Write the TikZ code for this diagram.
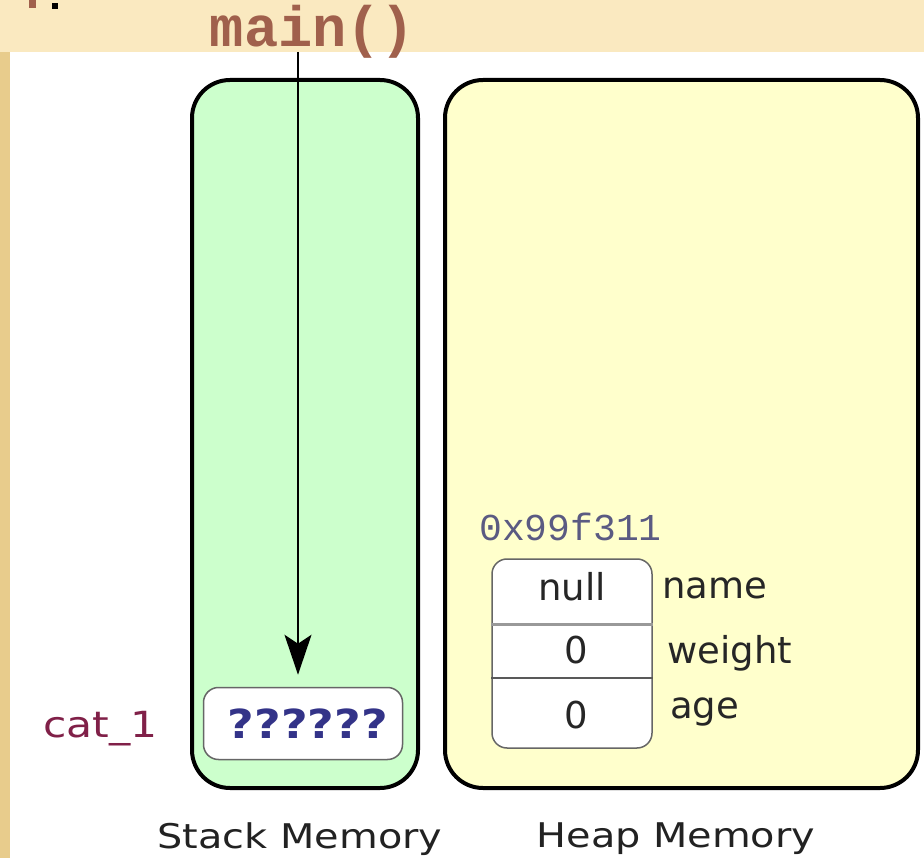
\documentclass[tikz,border=0pt]{standalone}
\usepackage{fontspec}
\usepackage{graphicx}
\setmainfont{DejaVu Sans}
\newfontfamily\monofont{Liberation Mono}
\usetikzlibrary{arrows.meta}
\definecolor{beige}{RGB}{250,233,192}
\definecolor{beigedark}{RGB}{232,204,140}
\definecolor{mainbrown}{RGB}{160,96,76}
\definecolor{stackgreen}{RGB}{204,255,204}
\definecolor{heapyellow}{RGB}{255,255,204}
\definecolor{labelgray}{RGB}{34,34,34}
\definecolor{catred}{RGB}{128,32,72}
\definecolor{qblue}{RGB}{51,51,136}
\definecolor{addrgray}{RGB}{90,90,130}
\tikzset{
  membox/.style={draw=black, line width=4pt, rounded corners=38pt, inner sep=0pt},
  cellbox/.style={draw=black!60, line width=1.5pt, fill=white, rounded corners=15pt, inner sep=0pt},
  memlabel/.style={anchor=base, text=labelgray, font=\fontsize{34}{34}\selectfont},
  celltext/.style={anchor=base, text=black!85, font=\fontsize{37}{37}\selectfont},
  fieldtext/.style={anchor=base west, text=black!85, font=\fontsize{37}{37}\selectfont},
  arr/.style={line width=2pt, -{Stealth[length=40pt, width=27pt, inset=9pt]}}
}
\begin{document}
\begin{tikzpicture}[x=1pt,y=-1pt]
\useasboundingbox (0,0) rectangle (924,858);
% background
\fill[beige] (0,0) rectangle (924,858);
\fill[beigedark] (0,52) rectangle (10,858);
\fill[white] (10,52) rectangle (924,858);
% cut-off fragment at top left
\fill[mainbrown] (29,0) rectangle (36,8);
\fill[black] (52,3) rectangle (58,9);
% title
\node[anchor=base, text=mainbrown, inner sep=0pt, font=\monofont\bfseries\fontsize{57}{57}\selectfont] (main) at (312.5,47) {main()};
% memory areas
\node[membox, fill=stackgreen, minimum width=226pt, minimum height=708pt] (stack) at (305,434) {};
\node[membox, fill=heapyellow, minimum width=473pt, minimum height=708pt] (heap) at (681.5,434) {};
% stack cell
\node[cellbox, minimum width=199pt, minimum height=72pt] (q) at (303,723.5) {};
\node[anchor=base, text=qblue, inner sep=0pt, font=\bfseries\fontsize{40}{40}\selectfont] (qt) at (308,738) {\scalebox{1.15}[1]{??????}};
\node[anchor=base east, text=catred, inner sep=0pt, font=\fontsize{36}{36}\selectfont] (cat) at (158,737) {\scalebox{1.18}[1]{cat\_1}};
% arrow
\coordinate (atop) at (298,52);
\draw[arr] (atop) -- (atop |- q.north) [shorten >=12pt];
% heap object
\node[anchor=base west, text=addrgray, inner sep=0pt, font=\monofont\fontsize{38}{38}\selectfont] (addr) at (479,540) {0x99f311};
\node[cellbox, minimum width=160pt, minimum height=189pt] (obj) at (572,653.5) {};
\draw[black!40, line width=3pt] (obj.west |- 0,624) -- (obj.east |- 0,624);
\draw[black!65, line width=1.5pt] (obj.west |- 0,678) -- (obj.east |- 0,678);
\node[celltext, inner sep=0pt] (v1) at (572,600) {null};
\node[celltext, inner sep=0pt] (v2) at (576,663) {0};
\node[celltext, inner sep=0pt] (v3) at (576,728) {0};
\node[fieldtext, inner sep=0pt] (f1) at (662,598) {name};
\node[fieldtext, inner sep=0pt] (f2) at (667,663) {weight};
\node[fieldtext, inner sep=0pt] (f3) at (670,718) {age};
% captions
\node[memlabel, inner sep=0pt] (sl) at (300,848) {\scalebox{1.17}[1]{Stack Memory}};
\node[memlabel, inner sep=0pt] (hl) at (676,847) {\scalebox{1.17}[1]{Heap Memory}};
\end{tikzpicture}
\end{document}
